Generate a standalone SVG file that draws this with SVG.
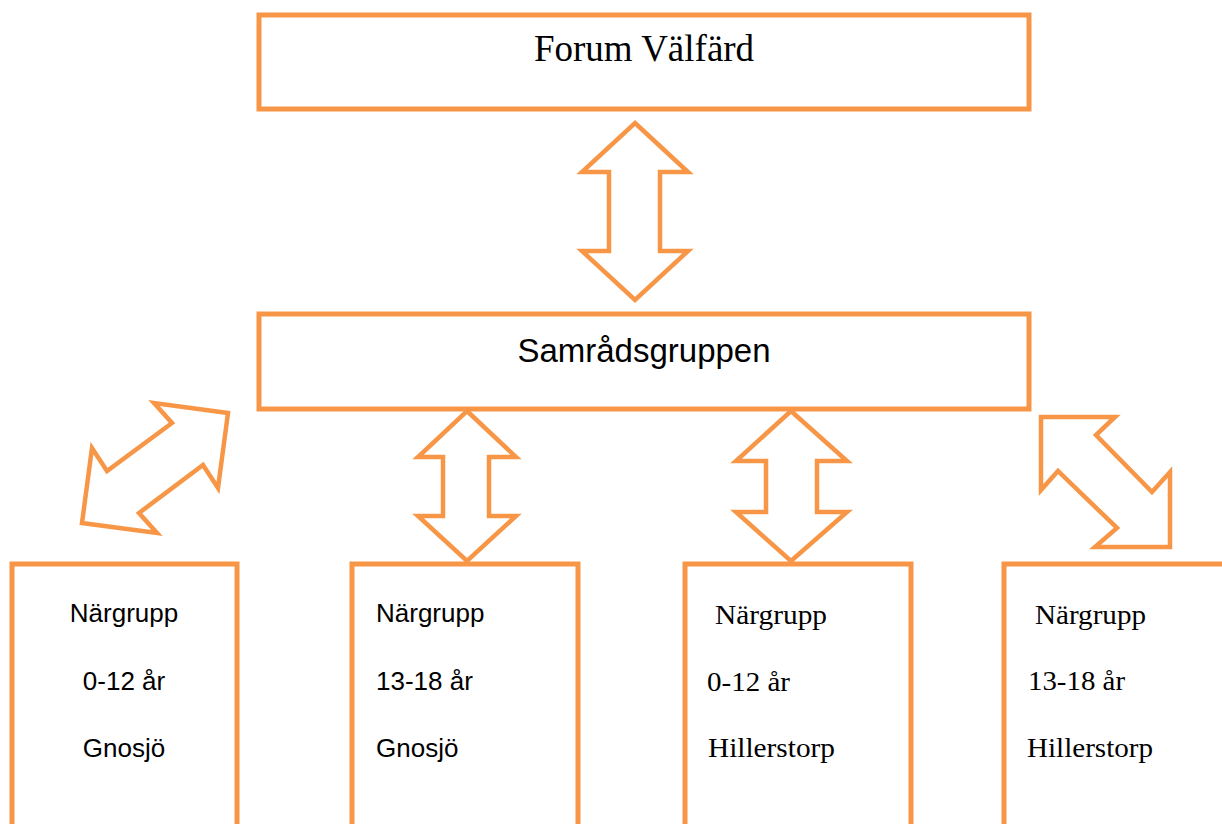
<svg xmlns="http://www.w3.org/2000/svg" width="1222" height="824" viewBox="0 0 1222 824">
<style>
.box{fill:#ffffff;stroke:#F79646;stroke-width:5}
.arr{fill:#ffffff;stroke:#F79646;stroke-width:4.5;stroke-linejoin:miter}
.serif{font-family:"Liberation Serif","Times New Roman",serif;fill:#000}
.sans{font-family:"Liberation Sans",Arial,sans-serif;fill:#000}
</style>
<rect x="0" y="0" width="1222" height="824" fill="#ffffff"/>
<g id="connectors">
<polygon class="arr" points="635,123 688,172 660,172 660,251 688,251 635,300 582,251 609,251 609,172 582,172"/>
<polygon class="arr" points="467,411 516,457 489,457 489,516 516,516 467,561 418,516 443,516 443,457 418,457"/>
<polygon class="arr" points="791,411 847,461 817,461 817,512 847,512 791,561 736,512 766,512 766,461 736,461"/>
<polygon class="arr" points="228,413 154,403 172,423 107,471 92,448 82,523 157,533 139,513 203,465 218,488"/>
<polygon class="arr" points="1041,417 1115,417 1096,435 1152,492 1170,472 1170,547 1095,547 1117,528 1058,471 1041,490"/>
</g>
<g id="forum">
<rect class="box" x="259" y="15" width="770" height="94"/>
<text class="serif" x="644" y="61" font-size="37" text-anchor="middle">Forum Välfärd</text>
</g>
<g id="samrad">
<rect class="box" x="259" y="314" width="770" height="95"/>
<text class="sans" x="644" y="362" font-size="33" text-anchor="middle">Samrådsgruppen</text>
</g>
<g id="gnosjo012">
<rect class="box" x="12" y="564" width="225" height="320"/>
<text class="sans" x="124" y="622" font-size="26" text-anchor="middle">Närgrupp</text>
<text class="sans" x="124" y="690" font-size="26" text-anchor="middle">0-12 år</text>
<text class="sans" x="124" y="757" font-size="26" text-anchor="middle">Gnosjö</text>
</g>
<g id="gnosjo1318">
<rect class="box" x="352" y="564" width="226" height="320"/>
<text class="sans" x="376" y="622" font-size="26">Närgrupp</text>
<text class="sans" x="376" y="690" font-size="26">13-18 år</text>
<text class="sans" x="376" y="757" font-size="26">Gnosjö</text>
</g>
<g id="hillerstorp012">
<rect class="box" x="685" y="564" width="226" height="320"/>
<text class="serif" x="715" y="624" font-size="28" textLength="112" lengthAdjust="spacingAndGlyphs">Närgrupp</text>
<text class="serif" x="707" y="691" font-size="28" textLength="83" lengthAdjust="spacingAndGlyphs">0-12 år</text>
<text class="serif" x="708" y="757" font-size="28" textLength="127" lengthAdjust="spacingAndGlyphs">Hillerstorp</text>
</g>
<g id="hillerstorp1318">
<rect class="box" x="1004" y="564" width="226" height="320"/>
<text class="serif" x="1035" y="624" font-size="28" textLength="111" lengthAdjust="spacingAndGlyphs">Närgrupp</text>
<text class="serif" x="1028" y="690" font-size="28" textLength="97" lengthAdjust="spacingAndGlyphs">13-18 år</text>
<text class="serif" x="1027" y="757" font-size="28" textLength="126" lengthAdjust="spacingAndGlyphs">Hillerstorp</text>
</g>
</svg>
